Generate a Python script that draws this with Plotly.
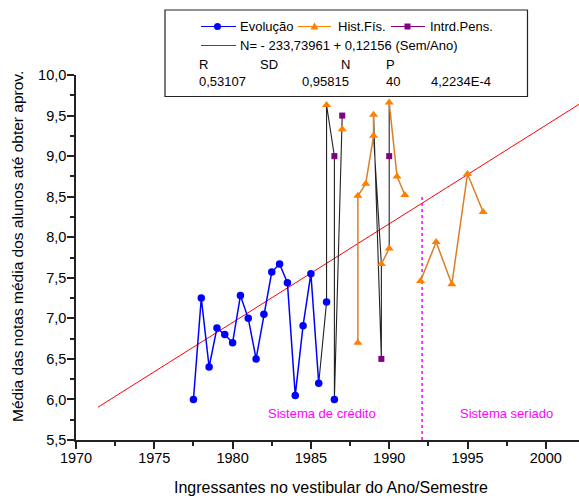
import plotly.graph_objects as go

# ---------------- data ----------------
evol_x = [1977.5, 1978, 1978.5, 1979, 1979.5, 1980, 1980.5, 1981, 1981.5, 1982,
          1982.5, 1983, 1983.5, 1984, 1984.5, 1985, 1985.5, 1986, 1986.5]
evol_y = [6.00, 7.25, 6.40, 6.88, 6.80, 6.70, 7.28, 7.00, 6.50, 7.05,
          7.57, 7.67, 7.44, 6.05, 6.91, 7.55, 6.20, 7.20, 6.00]

hist_x = [1986, 1987, 1988, 1988, 1988.5, 1989, 1989, 1989.5, 1990, 1990,
          1990.5, 1991, 1992, 1993, 1994, 1995, 1996]
hist_y = [9.63, 9.33, 6.70, 8.51, 8.66, 9.25, 9.51, 7.67, 7.86, 9.66,
          8.75, 8.52, 7.46, 7.94, 7.42, 8.78, 8.31]

pens_x = [1986.5, 1987, 1989.5, 1990]
pens_y = [9.00, 9.50, 6.50, 9.00]

# regression (from the legend)
fit_a, fit_b = -233.73961, 0.12156
fit_x = [1971.4, 2002.12]

# separation between the two systems
sep_year = 1992.1
sep_top = 8.5

x_ticks = [1970, 1975, 1980, 1985, 1990, 1995, 2000]
y_ticks = [5.5, 6.0, 6.5, 7.0, 7.5, 8.0, 8.5, 9.0, 9.5, 10.0]

# which points are joined by the coloured lines (index ranges, end exclusive)
evol_segments = [(0, 17)]
hist_segments = [(2, 7), (7, 9), (9, 12), (12, 17)]
# black "all data" connector, as (series, index)
connector_paths = [
    [("e", 16), ("e", 17), ("h", 0), ("p", 0), ("e", 18), ("h", 1), ("p", 1)],
    [("h", 5), ("h", 7), ("p", 2), ("h", 6), ("h", 5)],
    [("h", 9), ("p", 3), ("h", 8)],
]

FONT = "Liberation Sans, Arial, sans-serif"
BLUE, ORANGE, ORANGE_LINE, PURPLE, RED, MAG = "#0000FF", "#FF8000", "#DB7F26", "#800080", "#FF0000", "#FF00FF"

series = {"e": (evol_x, evol_y), "h": (hist_x, hist_y), "p": (pens_x, pens_y)}


def seg_xy(xs, ys, segs):
    ox, oy = [], []
    for a, b in segs:
        ox += list(xs[a:b]) + [None]
        oy += list(ys[a:b]) + [None]
    return ox, oy


cx, cy = [], []
for path in connector_paths:
    for s, i in path:
        cx.append(series[s][0][i])
        cy.append(series[s][1][i])
    cx.append(None)
    cy.append(None)

fig = go.Figure()

# regression line
fig.add_trace(go.Scatter(x=fit_x, y=[fit_a + fit_b * v for v in fit_x], mode="lines",
                         line=dict(color=RED, width=1), showlegend=False, hoverinfo="skip"))
# separation line
fig.add_trace(go.Scatter(x=[sep_year, sep_year], y=[5.5, sep_top], mode="lines",
                         line=dict(color=MAG, width=1.5, dash="dot"), showlegend=False, hoverinfo="skip"))
# connector
fig.add_trace(go.Scatter(x=cx, y=cy, mode="lines", line=dict(color="#222222", width=1.1),
                         showlegend=False, hoverinfo="skip"))
# coloured lines
ex, ey = seg_xy(evol_x, evol_y, evol_segments)
fig.add_trace(go.Scatter(x=ex, y=ey, mode="lines", line=dict(color=BLUE, width=1.5), showlegend=False))
hx, hy = seg_xy(hist_x, hist_y, hist_segments)
fig.add_trace(go.Scatter(x=hx, y=hy, mode="lines", line=dict(color=ORANGE_LINE, width=1.5), showlegend=False))
# markers
fig.add_trace(go.Scatter(x=evol_x, y=evol_y, mode="markers", name="Evolução",
                         marker=dict(color=BLUE, size=7.5, symbol="circle"), showlegend=False))
fig.add_trace(go.Scatter(x=hist_x, y=hist_y, mode="markers", name="Hist.Fís.",
                         marker=dict(color=ORANGE, size=8, symbol="triangle-up"), showlegend=False))
fig.add_trace(go.Scatter(x=pens_x, y=pens_y, mode="markers", name="Intrd.Pens.",
                         marker=dict(color=PURPLE, size=6, symbol="square"), showlegend=False))

# ---------------- layout ----------------
W, H = 579, 500
ML, MR, MT, MB = 76, 0, 75, 60
PW, PH = W - ML - MR, H - MT - MB


def P(x, y):
    return (x - ML) / PW, 1 - (y - MT) / PH


shapes, annos = [], []
# legend box
x0, y0 = P(165, 10)
x1, y1 = P(527.5, 96.5)
shapes.append(dict(type="rect", xref="paper", yref="paper", x0=x0, y0=y1, x1=x1, y1=y0,
                   line=dict(color="#222222", width=1.2), fillcolor="white", layer="above"))


def sample(xa, xb, y, color):
    a = P(xa, y)
    b = P(xb, y)
    shapes.append(dict(type="line", xref="paper", yref="paper", x0=a[0], y0=a[1], x1=b[0], y1=b[1],
                       line=dict(color=color, width=1.2), layer="above"))


def marker(x, y, kind, color):
    xp, yp = P(x, y)
    base = dict(xref="paper", yref="paper", xsizemode="pixel", ysizemode="pixel",
                xanchor=xp, yanchor=yp, fillcolor=color, line=dict(color=color, width=0), layer="above")
    if kind == "circle":
        shapes.append(dict(type="circle", x0=-3.5, x1=3.5, y0=-3.5, y1=3.5, **base))
    elif kind == "square":
        shapes.append(dict(type="rect", x0=-3, x1=3, y0=-3, y1=3, **base))
    else:
        shapes.append(dict(type="path", path="M -4,-3 L 4,-3 L 0,4 Z", **base))


def text(x, y, s, size=13, color="black", anchor="left"):
    xp, yp = P(x, y)
    annos.append(dict(xref="paper", yref="paper", x=xp, y=yp, text=s, showarrow=False,
                      xanchor=anchor, yanchor="middle", font=dict(family=FONT, size=size, color=color)))


r1, r2, r3, r4 = 26.5, 45.5, 64, 81
sample(201, 236, r1, BLUE); marker(217.5, r1, "circle", BLUE); text(238, r1, "Evolução")
sample(298, 331, r1, ORANGE); marker(314.5, r1, "tri", ORANGE); text(336, r1, "Hist.Fís.")
sample(391, 425, r1, PURPLE); marker(407.5, r1, "square", PURPLE); text(428, r1, "Intrd.Pens.")
sample(201, 236, r2, RED); text(238, r2, "N= - 233,73961 + 0,12156 (Sem/Ano)")
text(197, r3, "R"); text(258, r3, "SD"); text(339, r3, "N"); text(384, r3, "P")
text(197, r4, "0,53107"); text(300, r4, "0,95815"); text(384, r4, "40"); text(429, r4, "4,2234E-4")

# region labels
annos.append(dict(x=1985.7, y=5.83, text="Sistema de crédito", showarrow=False,
                  font=dict(family=FONT, size=13, color=MAG)))
annos.append(dict(x=1997.5, y=5.83, text="Sistema seriado", showarrow=False,
                  font=dict(family=FONT, size=13, color=MAG)))
# axis titles
text(330.5, 488, "Ingressantes no vestibular do Ano/Semestre", size=16, anchor="center")
xp, yp = P(17, 247)
annos.append(dict(xref="paper", yref="paper", x=xp, y=yp, text="Média das notas média dos alunos até obter aprov.",
                  showarrow=False, textangle=-90, xanchor="center", yanchor="middle",
                  font=dict(family=FONT, size=15.5, color="black")))

axis_common = dict(showline=True, linecolor="#222222", linewidth=1.5, ticks="outside", ticklen=7,
                   tickwidth=1.5, tickcolor="#222222", showgrid=False, zeroline=False,
                   tickfont=dict(family=FONT, size=14.5, color="black"))

fig.update_layout(
    width=W, height=H, margin=dict(l=ML, r=MR, t=MT, b=MB, pad=0),
    paper_bgcolor="white", plot_bgcolor="white", separators=",.",
    showlegend=False,
    xaxis=dict(range=[1970, 2002.12], tickvals=x_ticks, tickformat="d", ticklabelstandoff=-3,
               minor=dict(dtick=2.5, tick0=1970, ticks="outside", ticklen=4, tickwidth=1.5, tickcolor="#222222"),
               **axis_common),
    yaxis=dict(range=[5.5, 10.0], tickvals=y_ticks, tickformat=".1f", ticklabelstandoff=-2,
               minor=dict(dtick=0.25, tick0=5.5, ticks="outside", ticklen=4, tickwidth=1.5, tickcolor="#222222"),
               **axis_common),
    shapes=shapes, annotations=annos,
)

fig.write_html("out.html")
